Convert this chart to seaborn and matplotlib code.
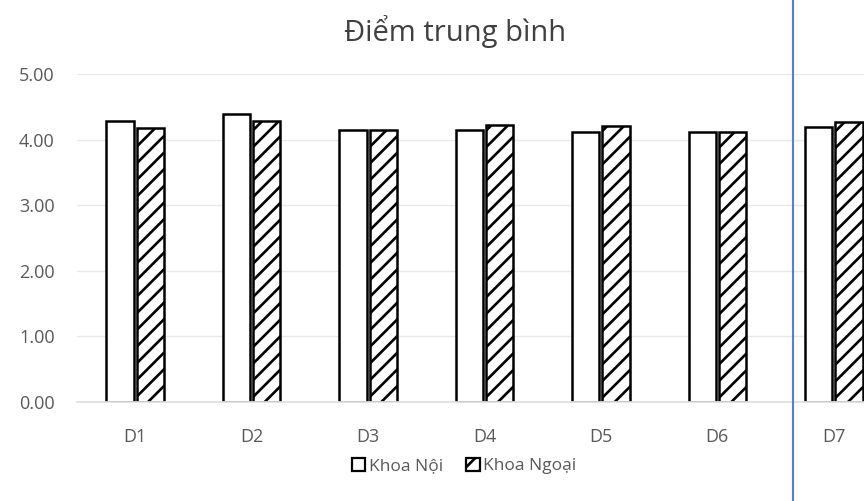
import pandas as pd
import matplotlib
import matplotlib.pyplot as plt
import seaborn as sns
from matplotlib.patches import Patch
from matplotlib.lines import Line2D

matplotlib.use("Agg")

# Dữ liệu
nhom = ["D1", "D2", "D3", "D4", "D5", "D6", "D7"]
khoa_noi = [4.29, 4.39, 4.15, 4.14, 4.12, 4.12, 4.19]
khoa_ngoai = [4.18, 4.29, 4.15, 4.22, 4.21, 4.12, 4.27]
ten_khoa = ["Khoa Nội", "Khoa Ngoại"]
moc_y = [0, 1, 2, 3, 4, 5]

df = pd.DataFrame({
    "nhom": nhom * 2,
    "diem": khoa_noi + khoa_ngoai,
    "khoa": [ten_khoa[0]] * len(nhom) + [ten_khoa[1]] * len(nhom),
})

sns.set_theme(style="white")
plt.rcParams["font.family"] = ["Open Sans", "DejaVu Sans"]
plt.rcParams["hatch.linewidth"] = 1.9

XAM = "#595959"

fig = plt.figure(figsize=(8.64, 5.01), dpi=100)
ax = fig.add_axes([77 / 864, 99 / 501, 815 / 864, 328 / 501])

sns.barplot(data=df, x="nhom", y="diem", hue="khoa",
            palette=["white", "white"], saturation=1,
            width=0.52, gap=0.1, edgecolor="black", linewidth=1.8,
            legend=False, ax=ax)
for bar in ax.containers[1]:
    bar.set_hatch("//")

ax.set_xlim(-0.5, 6.5)
ax.set_ylim(0, 5)
ax.set_yticks(moc_y)
ax.set_yticklabels([f"{v:.2f}" for v in moc_y])
ax.set_xlabel("")
ax.set_ylabel("")
ax.tick_params(axis="y", length=0, pad=16, labelsize=13, labelcolor=XAM)
ax.tick_params(axis="x", length=0, pad=19, labelsize=13, labelcolor=XAM)
ax.grid(axis="y", color="#e8e8e8", linewidth=1)
ax.set_axisbelow(True)
for s in ["top", "right", "left"]:
    ax.spines[s].set_visible(False)
ax.spines["bottom"].set_color("#e0e0e0")

fig.text(455 / 864, 1 - 32 / 501, "Điểm trung bình", ha="center", va="center",
         fontsize=21, color="#404040")

handles = [Patch(facecolor="white", edgecolor="black", linewidth=1.6),
           Patch(facecolor="white", edgecolor="black", linewidth=1.6, hatch="//")]
fig.legend(handles, ten_khoa, loc="center", bbox_to_anchor=(464 / 864, 1 - 466 / 501),
           ncol=2, frameon=False, fontsize=12.5, handlelength=0.8, handleheight=0.8,
           handletextpad=0.2, columnspacing=1.3, labelcolor=XAM)

# vạch xanh của bản scan
fig.add_artist(Line2D([793 / 864, 793 / 864], [0, 1], color="#5b7bd5", linewidth=1.5))

plt.savefig("out.png", dpi=100)
plt.close()
